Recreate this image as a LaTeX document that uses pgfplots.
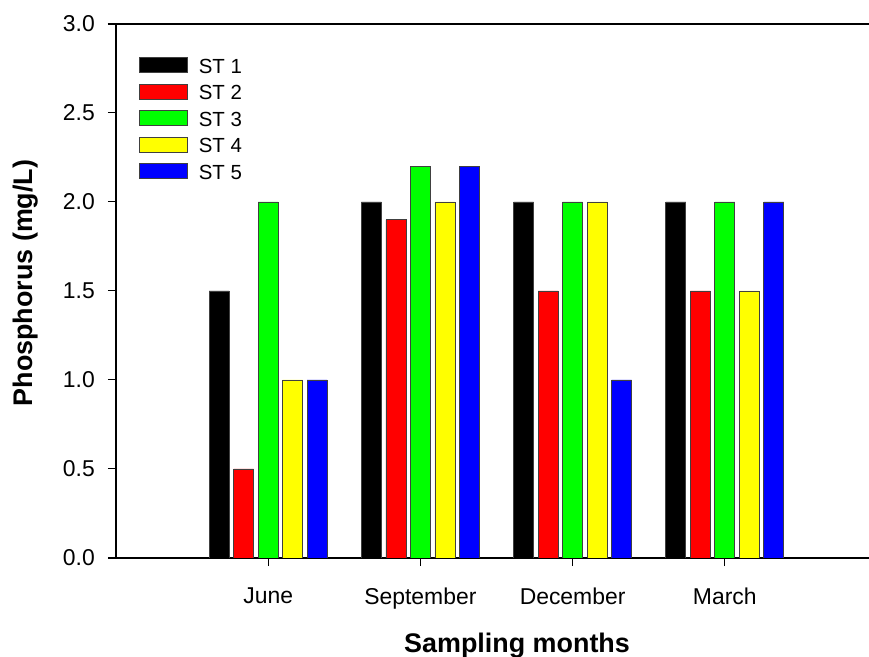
\documentclass[border=0pt]{standalone}
\usepackage{fontspec}
\setmainfont{Liberation Sans}
\usepackage{pgfplots}
\usepackage{pgfplotstable}
\pgfplotsset{compat=1.18}
\pgfplotstableread{
x st1 st2 st3 st4 st5
1 1.5 0.5 2.0 1.0 1.0
2 2.0 1.9 2.2 2.0 2.2
3 2.0 1.5 2.0 2.0 1.0
4 2.0 1.5 2.0 1.5 2.0
}\data
\definecolor{cRed}{RGB}{255,0,0}
\definecolor{cGreen}{RGB}{0,255,0}
\definecolor{cYellow}{RGB}{255,255,0}
\definecolor{cBlue}{RGB}{0,0,255}
\begin{document}
\begin{tikzpicture}
\path[use as bounding box] (0,0) rectangle (869bp,657bp);
\begin{axis}[
  at={(116bp,99bp)}, anchor=south west,
  scale only axis, width=761bp, height=534bp,
  xmin=0, xmax=5, ymin=0, ymax=3,
  axis x line=box, axis y line=left,
  axis line style={-, line width=1.3bp},
  x axis line style={shorten <=-8bp},
  xtick pos=bottom, ytick pos=left,
  tick align=outside,
  major tick length=8bp,
  tick style={line width=1bp, black},
  xtick={1,2,3,4},
  xticklabels={June,September,December,March},
  ytick={0,0.5,...,3.0},
  /pgf/number format/assume math mode=true,
  yticklabel={\pgfmathprintnumber[fixed,fixed zerofill,precision=1]{\tick}},
  ticklabel style={font=\fontsize{23}{26}\selectfont, inner sep=0pt},
  yticklabel style={xshift=-13bp},
  xticklabel style={yshift=-22bp},
  xlabel={Sampling months},
  ylabel={Phosphorus (mg/L)},
  every axis x label/.style={at={(axis description cs:0.527,-0.140)}, anchor=north,
    font=\fontsize{27}{30}\selectfont\bfseries, inner sep=0pt},
  every axis y label/.style={at={(axis description cs:-0.136,0.515)}, anchor=north, rotate=90,
    font=\fontsize{27}{30}\selectfont\bfseries, inner sep=0pt},
  ybar=4.5bp, bar width=20bp,
  legend style={at={(axis description cs:0,1)}, anchor=north west,
    xshift=23bp, yshift=-33.5bp, inner sep=0pt, outer sep=0pt,
    draw=none, fill=none, row sep=9.2bp,
    font=\fontsize{20.5}{23}\selectfont,
    nodes={inner sep=0pt},
    /tikz/every odd column/.append style={column sep=11bp}},
  legend cell align=left,
  mybar/.style={draw=black!75, line width=0.8bp, fill=#1,
    legend image code/.code={\draw[##1] (0bp,-6bp) rectangle (48bp,9bp);}},
]
\addplot[mybar=black] table[x=x,y=st1]{\data};
\addlegendentry{ST 1}
\addplot[mybar=cRed] table[x=x,y=st2]{\data};
\addlegendentry{ST 2}
\addplot[mybar=cGreen] table[x=x,y=st3]{\data};
\addlegendentry{ST 3}
\addplot[mybar=cYellow] table[x=x,y=st4]{\data};
\addlegendentry{ST 4}
\addplot[mybar=cBlue] table[x=x,y=st5]{\data};
\addlegendentry{ST 5}
\end{axis}
\end{tikzpicture}
\end{document}
